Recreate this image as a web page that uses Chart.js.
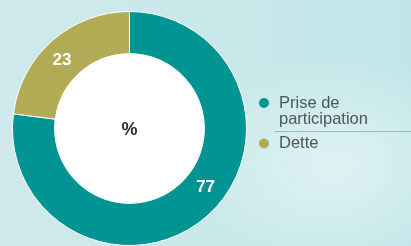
<!DOCTYPE html>
<html lang="fr">
<head>
<meta charset="utf-8">
<script src="https://cdn.jsdelivr.net/npm/chart.js@4/dist/chart.umd.min.js"></script>
<style>
    html, body {
        margin: 0;
        padding: 0;
        width: 411px;
        height: 246px;
        overflow: hidden;
    }
    body {
        background:
            radial-gradient(ellipse 160px 110px at 335px 165px, rgba(228, 244, 244, 0.85), rgba(228, 244, 244, 0)),
            linear-gradient(to right, #cfe9ec 0%, #c9e8ea 50%, #c0e6e8 100%);
    }
    #wrap {
        position: relative;
        width: 411px;
        height: 246px;
    }
</style>
</head>
<body>
<div id="wrap"><canvas id="chartRepartition"></canvas></div>
<script>
// Données du graphique
const categories = ['Prise de participation', 'Dette'];
const legendLines = [['Prise de', 'participation'], ['Dette']];
const valeurs = [77, 23];
const couleurs = ['#009592', '#b2ab55'];
const centreTexte = '%';

// Fond blanc du trou central
const trouBlancPlugin = {
    id: 'trouBlanc',
    beforeDatasetsDraw(chart) {
        const arc = chart.getDatasetMeta(0).data[0];
        if (!arc) return;
        const p = arc.getProps(['x', 'y', 'innerRadius'], true);
        const ctx = chart.ctx;
        ctx.save();
        ctx.fillStyle = '#ffffff';
        ctx.beginPath();
        ctx.arc(p.x, p.y, p.innerRadius + 1, 0, Math.PI * 2);
        ctx.fill();
        ctx.restore();
    }
};

// Étiquettes blanches sur les segments + texte central
const etiquettesPlugin = {
    id: 'etiquettes',
    afterDatasetsDraw(chart) {
        const ctx = chart.ctx;
        const meta = chart.getDatasetMeta(0);
        ctx.save();
        ctx.textAlign = 'center';
        ctx.textBaseline = 'middle';
        ctx.fillStyle = '#ffffff';
        ctx.font = 'bold 17px "Liberation Sans", Arial, sans-serif';
        meta.data.forEach((arc, i) => {
            const p = arc.getProps(['x', 'y', 'startAngle', 'endAngle', 'innerRadius', 'outerRadius'], true);
            const ang = p.startAngle + (p.endAngle - p.startAngle) * 0.46;
            const r = (p.innerRadius + p.outerRadius) / 2;
            ctx.fillText(String(valeurs[i]), p.x + Math.cos(ang) * r, p.y + Math.sin(ang) * r);
        });
        const c = meta.data[0];
        ctx.fillStyle = '#2e2e2e';
        ctx.font = 'bold 18px "Liberation Sans", Arial, sans-serif';
        ctx.fillText(centreTexte, c.x, c.y + 2);
        ctx.restore();
    }
};

// Légende dessinée à droite
const legendePlugin = {
    id: 'legende',
    afterDraw(chart) {
        const ctx = chart.ctx;
        const x0 = 264;
        const xt = 279;
        const interligne = 16;
        let y = 103;
        ctx.save();
        ctx.font = '16.5px "Liberation Sans", Arial, sans-serif';
        ctx.textBaseline = 'middle';
        ctx.textAlign = 'left';
        legendLines.forEach((lignes, i) => {
            ctx.fillStyle = couleurs[i];
            ctx.beginPath();
            ctx.arc(x0, y, 5, 0, Math.PI * 2);
            ctx.fill();
            ctx.fillStyle = '#4d5757';
            lignes.forEach((t, j) => ctx.fillText(t, xt, y + j * interligne));
            if (i < legendLines.length - 1) {
                const ySep = y + (lignes.length - 1) * interligne + 12.5;
                ctx.strokeStyle = '#9fb8ba';
                ctx.lineWidth = 1;
                ctx.beginPath();
                ctx.moveTo(275, ySep);
                ctx.lineTo(411, ySep);
                ctx.stroke();
                y = ySep + 12;
            }
        });
        ctx.restore();
    }
};

document.addEventListener('DOMContentLoaded', () => {
    const ctx = document.getElementById('chartRepartition').getContext('2d');

    new Chart(ctx, {
        type: 'doughnut',
        data: {
            labels: categories,
            datasets: [{
                data: valeurs,
                backgroundColor: couleurs,
                borderColor: '#ffffff',
                borderWidth: 1
            }]
        },
        options: {
            responsive: true,
            maintainAspectRatio: false,
            animation: false,
            cutout: '64%',
            layout: {
                padding: { left: 11, top: 11, right: 163, bottom: 0 }
            },
            plugins: {
                legend: { display: false },
                tooltip: { enabled: false }
            }
        },
        plugins: [trouBlancPlugin, etiquettesPlugin, legendePlugin]
    });
});
</script>
</body>
</html>
